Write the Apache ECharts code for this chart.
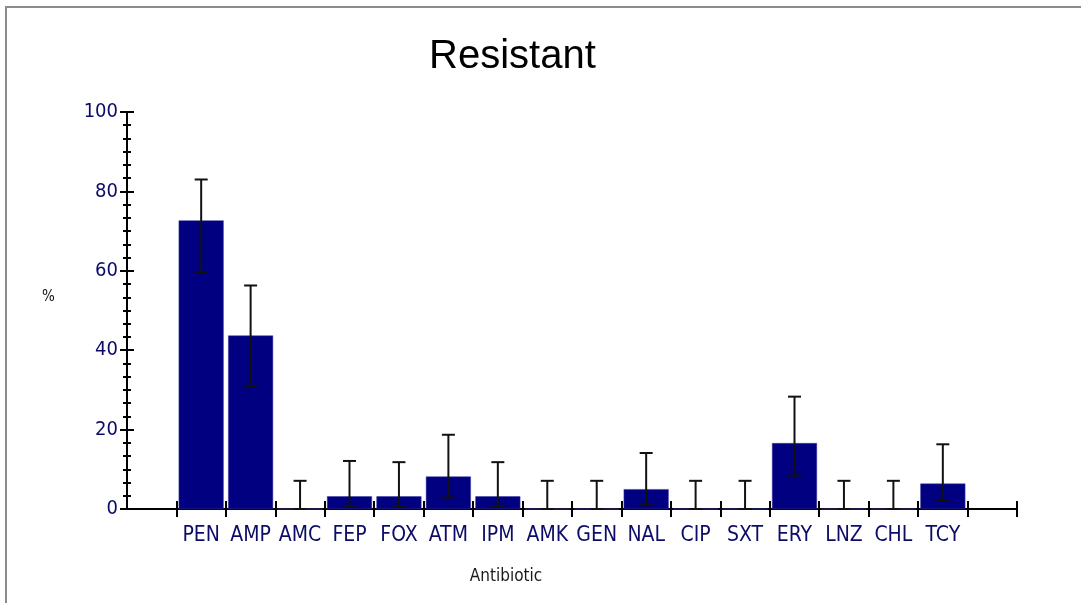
<!DOCTYPE html>
<html>
<head>
<meta charset="utf-8">
<script src="https://cdn.jsdelivr.net/npm/echarts@6/dist/echarts.min.js"></script>
<style>
  html, body { margin: 0; padding: 0; background: #fff; }
  #chart { width: 1081px; height: 603px; }
</style>
</head>
<body>
<div id="chart"></div>
<script>
// antibiotics on the x axis
var antibiotics = ['PEN', 'AMP', 'AMC', 'FEP', 'FOX', 'ATM', 'IPM', 'AMK', 'GEN', 'NAL', 'CIP', 'SXT', 'ERY', 'LNZ', 'CHL', 'TCY'];
// % resistant
var resistant = [72.7, 43.7, 0, 3.2, 3.2, 8.2, 3.2, 0, 0, 5.0, 0, 0, 16.6, 0, 0, 6.4];
// confidence interval, low and high ends
var ciLow = [59.7, 30.9, 0, 0.7, 0.7, 2.9, 0.7, 0, 0, 1.1, 0, 0, 8.4, 0, 0, 2.1];
var ciHigh = [83.0, 56.3, 7.1, 12.1, 11.8, 18.7, 11.8, 7.1, 7.1, 14.1, 7.1, 7.1, 28.3, 7.1, 7.1, 16.3];
var yTicks = [0, 20, 40, 60, 80, 100];

// empty slot at both ends of the axis, like the original plot
var categories = [''].concat(antibiotics, [' ']);
var barData = ['-'].concat(resistant, ['-']);
var errData = antibiotics.map(function (a, i) {
	return [a, ciLow[i], ciHigh[i]];
});

var narrow = '"Liberation Sans Narrow", "DejaVu Sans Condensed", "Arial Narrow", "Liberation Sans", sans-serif';
var labelColor = '#0c0c68';

function yAxisBase(inside) {
	return {
		type: 'value',
		position: 'left',
		offset: 0,
		min: yTicks[0],
		max: yTicks[yTicks.length - 1],
		interval: 20,
		axisLine: { show: true, lineStyle: { color: '#000', width: 2 } },
		axisTick: { show: true, inside: inside, length: 7, lineStyle: { color: '#000', width: 2 } },
		minorTick: { show: true, splitNumber: 6, length: 4, lineStyle: { color: '#000', width: 2 } },
		splitLine: { show: false },
		minorSplitLine: { show: false }
	};
}

function xAxisBase(inside) {
	return {
		type: 'category',
		data: categories,
		position: 'bottom',
		offset: 0,
		axisLine: { show: true, lineStyle: { color: '#000', width: 2 } },
		axisTick: {
			show: true,
			inside: inside,
			length: 8,
			interval: function (index) { return index !== 0; },
			lineStyle: { color: '#000', width: 2 }
		},
		splitLine: { show: false }
	};
}

var y0 = yAxisBase(false);
y0.axisLabel = { color: labelColor, fontSize: 20, fontFamily: narrow, margin: 9 };

var y1 = yAxisBase(true);
y1.axisLabel = { show: false };

var x0 = xAxisBase(false);
x0.axisLabel = { color: labelColor, fontSize: 21, fontFamily: narrow, margin: 16, interval: 0 };
x0.name = 'Antibiotic';
x0.nameLocation = 'middle';
x0.nameGap = 59;
x0.nameTextStyle = { color: '#1a1a1a', fontSize: 17, fontFamily: narrow, padding: [0, 132, 0, 0] };

var x1 = xAxisBase(true);
x1.axisLabel = { show: false };

var option = {
	backgroundColor: '#fff',
	animation: false,
	title: {
		text: 'Resistant',
		left: 424,
		top: 32,
		textStyle: { color: '#000', fontSize: 40, fontWeight: 'normal', fontFamily: '"Liberation Sans", Arial, sans-serif' }
	},
	grid: { left: 127, right: 64, top: 112, bottom: 94, containLabel: false },
	xAxis: [x0, x1],
	yAxis: [y0, y1],
	graphic: [
		{ type: 'line', shape: { x1: 5, y1: 7, x2: 1081, y2: 7 }, style: { stroke: '#8c8c8c', lineWidth: 2 } },
		{ type: 'line', shape: { x1: 6, y1: 6, x2: 6, y2: 603 }, style: { stroke: '#8c8c8c', lineWidth: 2 } },
		// y axis unit, set beside the axis as in the original
		{ type: 'text', left: 42, top: 290, style: { text: '%', fill: '#111', fontSize: 15, fontFamily: narrow } }
	],
	series: [
		{
			type: 'bar',
			xAxisIndex: 0,
			yAxisIndex: 0,
			data: barData,
			barCategoryGap: '9%',
			itemStyle: { color: '#000080', borderColor: '#3a3aa0', borderWidth: 0.5 },
			z: 2
		},
		{
			type: 'custom',
			xAxisIndex: 0,
			yAxisIndex: 0,
			data: errData,
			encode: { x: 0, y: [1, 2] },
			z: 3,
			renderItem: function (params, api) {
				var x = api.value(0);
				var lo = api.coord([x, api.value(1)]);
				var hi = api.coord([x, api.value(2)]);
				var half = 6.5;
				var st = { stroke: '#111', lineWidth: 2 };
				return {
					type: 'group',
					children: [
						{ type: 'line', shape: { x1: lo[0], y1: lo[1], x2: hi[0], y2: hi[1] }, style: st },
						{ type: 'line', shape: { x1: hi[0] - half, y1: hi[1], x2: hi[0] + half, y2: hi[1] }, style: st },
						{ type: 'line', shape: { x1: lo[0] - half, y1: lo[1], x2: lo[0] + half, y2: lo[1] }, style: st }
					]
				};
			}
		}
	]
};

var myChart = echarts.init(document.getElementById('chart'));
myChart.setOption(option);
</script>
</body>
</html>
